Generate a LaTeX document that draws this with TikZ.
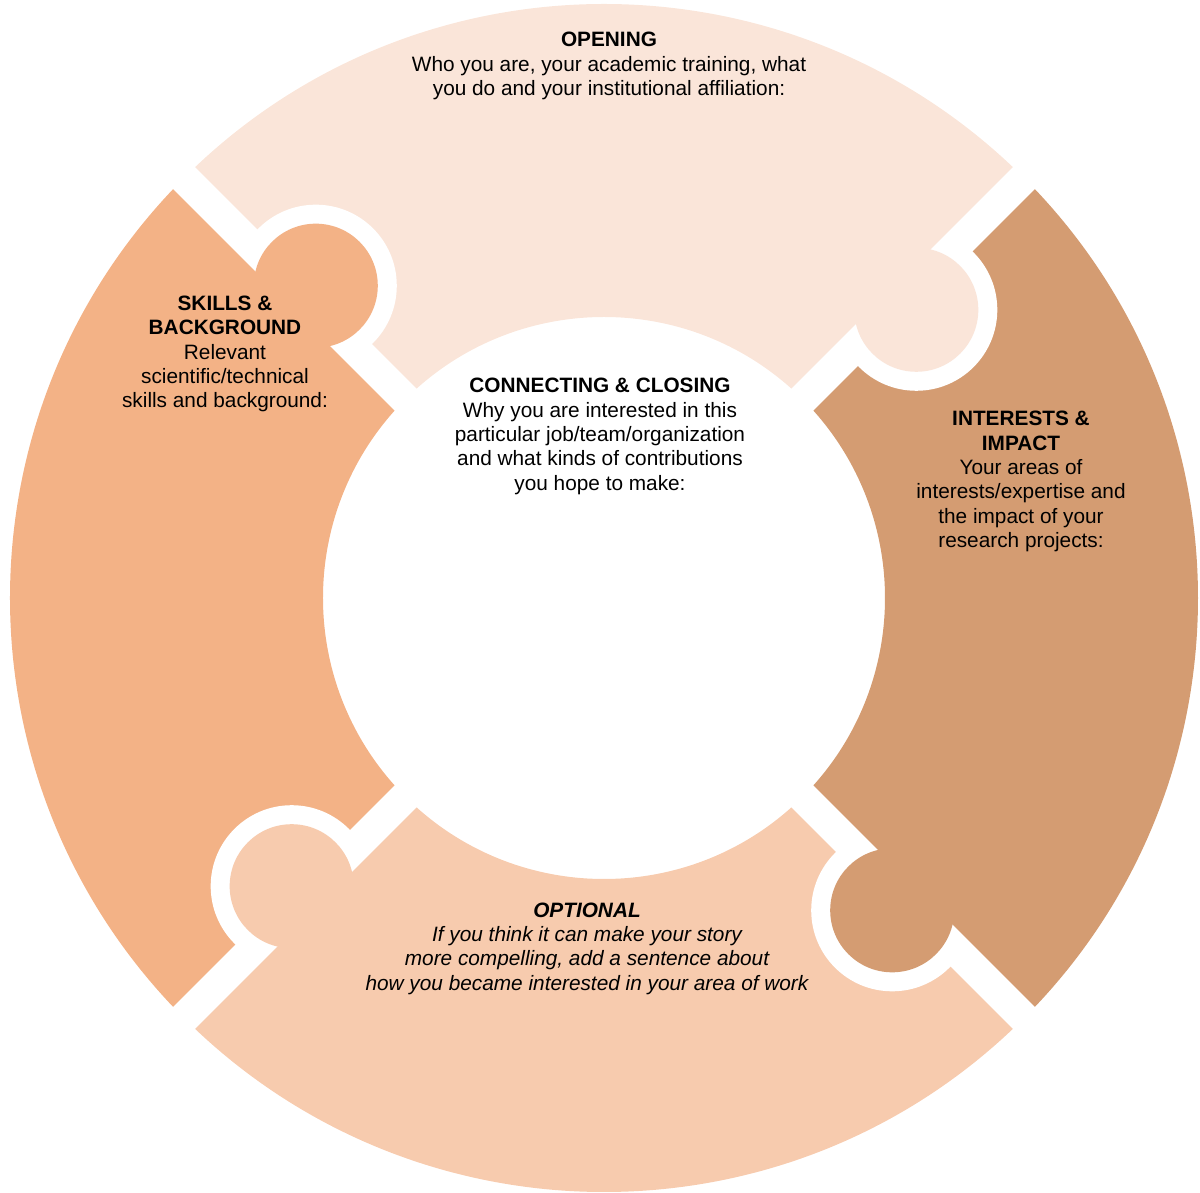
\documentclass[tikz,border=0pt]{standalone}
\usepackage{fontspec}
\setmainfont{Liberation Sans}
\definecolor{ctop}{RGB}{250,229,217}
\definecolor{cleft}{RGB}{243,178,134}
\definecolor{cright}{RGB}{212,156,114}
\definecolor{cbottom}{RGB}{247,203,174}
\newcommand\ringsector[2]{(#1:594) arc[start angle=#1,end angle=#2,radius=594] -- (#2:281) arc[start angle=#2,end angle=#1,radius=281] -- cycle}
\tikzset{
  txt/.style={align=center,inner sep=0pt,font=\fontsize{20.8}{24.3}\selectfont},
  gapline/.style={white,line width=31pt},
  hole/.style={white},
}
\begin{document}
\begin{tikzpicture}[x=1pt,y=1pt]
\useasboundingbox (-604,-595) rectangle (596,598);
% sectors
\fill[ctop] \ringsector{45}{135};
\fill[cleft] \ringsector{135}{225};
\fill[cbottom] \ringsector{225}{315};
\fill[cright] \ringsector{-45}{45};
% holes (clipped to receiving piece)
\begin{scope}\clip \ringsector{45}{135}; \fill[hole] (132.7:425) circle[radius=81];\end{scope}
\begin{scope}\clip \ringsector{-45}{45}; \fill[hole] (42.7:425) circle[radius=81];\end{scope}
\begin{scope}\clip \ringsector{225}{315}; \fill[hole] (-47.3:425) circle[radius=81];\end{scope}
\begin{scope}\clip \ringsector{135}{225}; \fill[hole] (222.7:425) circle[radius=81];\end{scope}
% gaps
\foreach \a in {45,135,225,315} \draw[gapline] (\a:250) -- (\a:640);
% knobs
\fill[cleft] (132.7:425) circle[radius=62];
\fill[ctop] (42.7:425) circle[radius=62];
\fill[cright] (-47.3:425) circle[radius=62];
\fill[cbottom] (222.7:425) circle[radius=62];
% texts
\node[txt] (opening) at (5,532) {\textbf{OPENING}\\Who you are, your academic training, what\\you do and your institutional affiliation:};
\node[txt] (skills) at (-379,244) {\textbf{SKILLS \&}\\\textbf{BACKGROUND}\\Relevant\\scientific/technical\\skills and background:};
\node[txt] (closing) at (-4,161.5) {\textbf{CONNECTING \& CLOSING}\\Why you are interested in this\\particular job/team/organization\\and what kinds of contributions\\you hope to make:};
\node[txt] (interests) at (417,116.5) {\textbf{INTERESTS \&}\\\textbf{IMPACT}\\Your areas of\\interests/expertise and\\the impact of your\\research projects:};
\node[txt,font=\fontsize{20.8}{24.3}\selectfont\itshape] (optional) at (-17,-350.5) {\textbf{OPTIONAL}\\If you think it can make your  story\\more compelling, add a sentence about\\how you became interested in your area of work};
\end{tikzpicture}
\end{document}
